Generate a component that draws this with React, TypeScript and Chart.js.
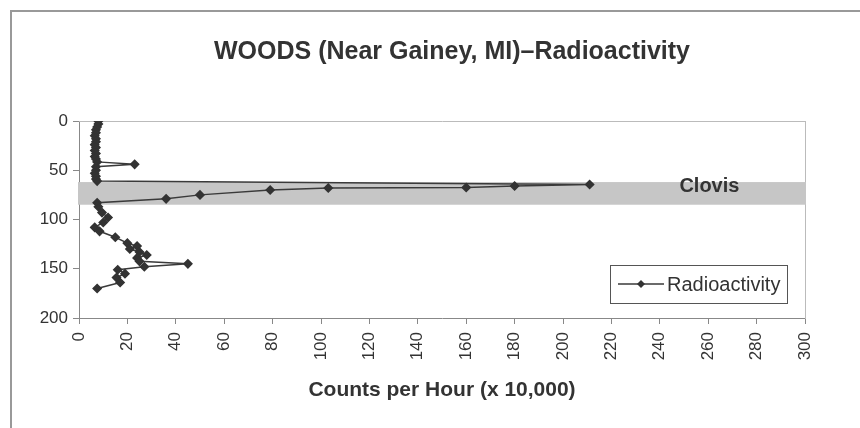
import React, { useEffect, useRef } from "react";
import { Chart, registerables } from "chart.js";

Chart.register(...registerables);

const TITLE = "WOODS (Near Gainey, MI)\u2013Radioactivity";
const X_TITLE = "Counts per Hour (x 10,000)";
const SERIES_LABEL = "Radioactivity";

// Depth (y, reversed) and counts per hour (x), in sampling order
const DEPTHS = [
  0, 3, 6, 9, 12, 15, 18, 21, 24, 27, 30, 33, 36, 38.5, 41.5, 44, 46.5, 50, 53, 56, 59, 61,
  64.5, 66, 67.5, 68, 70, 75, 79, 83,
  87, 93, 98, 103, 108, 112, 118, 124, 127, 130, 133, 136, 139, 142.5, 145, 148, 151, 155, 159, 164, 170,
];
const COUNTS = [
  8, 8, 7.5, 7, 7, 6.5, 7, 7, 6.5, 7, 6.5, 7, 6.5, 7, 7.5, 23, 7, 7, 6.5, 7, 7, 7.5,
  211, 180, 160, 103, 79, 50, 36, 7.5,
  8, 9.5, 12, 10, 6.5, 8.5, 15, 20, 24, 21, 25, 28, 24, 25, 45, 27, 16, 19, 15.5, 17, 7.5,
];

const X_MIN = 0;
const X_MAX = 300;
const X_STEP = 20;
const Y_MIN = 0;
const Y_MAX = 200;
const Y_STEP = 50;

const CLOVIS_TOP = 62;
const CLOVIS_BOTTOM = 85;
const CLOVIS_LABEL = "Clovis";
const CLOVIS_LABEL_X = 260.5;
const CLOVIS_LABEL_Y = 66.5;

const FONT = "'Liberation Sans', Arial, sans-serif";
const INK = "#333333";

const overlayPlugin = {
  id: "overlay",
  beforeDatasetsDraw(chart: any) {
    const { ctx, chartArea, scales } = chart;
    const y = scales.y;
    const x = scales.x;
    const top = y.getPixelForValue(CLOVIS_TOP);
    const bottom = y.getPixelForValue(CLOVIS_BOTTOM);
    ctx.save();
    ctx.fillStyle = "#c6c6c6";
    ctx.fillRect(chartArea.left - 1, top, chartArea.right - chartArea.left + 2, bottom - top);
    ctx.font = `bold 20px ${FONT}`;
    ctx.fillStyle = INK;
    ctx.textAlign = "center";
    ctx.textBaseline = "middle";
    ctx.fillText(CLOVIS_LABEL, x.getPixelForValue(CLOVIS_LABEL_X), y.getPixelForValue(CLOVIS_LABEL_Y));
    ctx.restore();
  },
  afterDraw(chart: any) {
    const { ctx, chartArea } = chart;
    const boxRight = chartArea.right - 18;
    const boxLeft = boxRight - 177;
    const boxBottom = chartArea.bottom - 15;
    const boxTop = boxBottom - 38;
    const midY = (boxTop + boxBottom) / 2;
    ctx.save();
    ctx.fillStyle = "#ffffff";
    ctx.fillRect(boxLeft, boxTop, boxRight - boxLeft, boxBottom - boxTop);
    ctx.strokeStyle = "#555555";
    ctx.lineWidth = 1;
    ctx.strokeRect(boxLeft + 0.5, boxTop + 0.5, boxRight - boxLeft, boxBottom - boxTop);
    ctx.strokeStyle = "#3a3a3a";
    ctx.lineWidth = 1.5;
    ctx.beginPath();
    ctx.moveTo(boxLeft + 8, midY);
    ctx.lineTo(boxLeft + 54, midY);
    ctx.stroke();
    const cx = boxLeft + 31;
    const r = 4;
    ctx.fillStyle = INK;
    ctx.beginPath();
    ctx.moveTo(cx, midY - r);
    ctx.lineTo(cx + r, midY);
    ctx.lineTo(cx, midY + r);
    ctx.lineTo(cx - r, midY);
    ctx.closePath();
    ctx.fill();
    ctx.font = `20px ${FONT}`;
    ctx.textAlign = "left";
    ctx.textBaseline = "middle";
    ctx.fillText(chart.data.datasets[0].label, boxLeft + 57, midY + 1);
    ctx.restore();
  },
};

export default function App() {
  const ref = useRef<HTMLCanvasElement | null>(null);

  useEffect(() => {
    if (!ref.current) return;
    const points = DEPTHS.map((d, i) => ({ x: COUNTS[i], y: d }));
    const chart = new Chart(ref.current, {
      type: "scatter",
      data: {
        datasets: [
          {
            label: SERIES_LABEL,
            data: points,
            showLine: true,
            borderColor: "#3a3a3a",
            borderWidth: 1.5,
            pointStyle: "rectRot",
            pointRadius: 4,
            pointBackgroundColor: INK,
            pointBorderColor: INK,
            tension: 0,
          },
        ],
      },
      options: {
        responsive: false,
        animation: false,
        devicePixelRatio: 1,
        layout: { padding: { left: 20, right: -24, top: 0, bottom: 25 } },
        plugins: {
          legend: { display: false },
          tooltip: { enabled: false },
          title: {
            display: true,
            text: TITLE,
            color: INK,
            font: { family: FONT, size: 25, weight: "bold", lineHeight: 1.2 },
            padding: { top: 37, bottom: 54 },
          },
        },
        scales: {
          x: {
            type: "linear",
            position: "bottom",
            min: X_MIN,
            max: X_MAX,
            ticks: {
              stepSize: X_STEP,
              minRotation: 90,
              maxRotation: 90,
              autoSkip: false,
              padding: 8,
              color: INK,
              font: { family: FONT, size: 17 },
            },
            grid: {
              display: true,
              drawOnChartArea: false,
              drawTicks: true,
              tickLength: 6,
              tickColor: "#888888",
            },
            border: { display: true, color: "#888888", width: 1 },
            title: {
              display: true,
              text: X_TITLE,
              color: INK,
              font: { family: FONT, size: 21, weight: "bold", lineHeight: 1.2 },
              padding: { top: 0, bottom: 0 },
            },
            afterFit: (s: any) => {
              s.height = 85;
            },
          },
          y: {
            type: "linear",
            position: "left",
            reverse: true,
            min: Y_MIN,
            max: Y_MAX,
            ticks: {
              stepSize: Y_STEP,
              padding: 5,
              color: INK,
              font: { family: FONT, size: 17 },
            },
            grid: {
              display: true,
              drawOnChartArea: false,
              drawTicks: true,
              tickLength: 6,
              tickColor: "#888888",
            },
            border: { display: true, color: "#888888", width: 1 },
            afterFit: (s: any) => {
              s.width = 59;
            },
          },
          x2: {
            type: "linear",
            position: "top",
            display: true,
            ticks: { display: false },
            grid: { display: false },
            border: { display: true, color: "#bbbbbb", width: 1 },
            afterFit: (s: any) => {
              s.height = 0;
            },
          },
          y2: {
            type: "linear",
            position: "right",
            display: true,
            ticks: { display: false },
            grid: { display: false },
            border: { display: true, color: "#bbbbbb", width: 1 },
            afterFit: (s: any) => {
              s.width = 79;
            },
          },
        },
      } as any,
      plugins: [overlayPlugin],
    });
    return () => chart.destroy();
  }, []);

  return (
    <div
      style={{
        position: "absolute",
        left: 0,
        top: 0,
        width: 860,
        height: 428,
        overflow: "hidden",
        background: "#ffffff",
      }}
    >
      <div
        style={{
          position: "absolute",
          left: 10,
          top: 10,
          width: 900,
          height: 500,
          borderTop: "2px solid #999999",
          borderLeft: "2px solid #999999",
        }}
      />
      <canvas
        ref={ref}
        width={860}
        height={428}
        style={{ position: "absolute", left: 0, top: 0, width: 860, height: 428 }}
      />
    </div>
  );
}
